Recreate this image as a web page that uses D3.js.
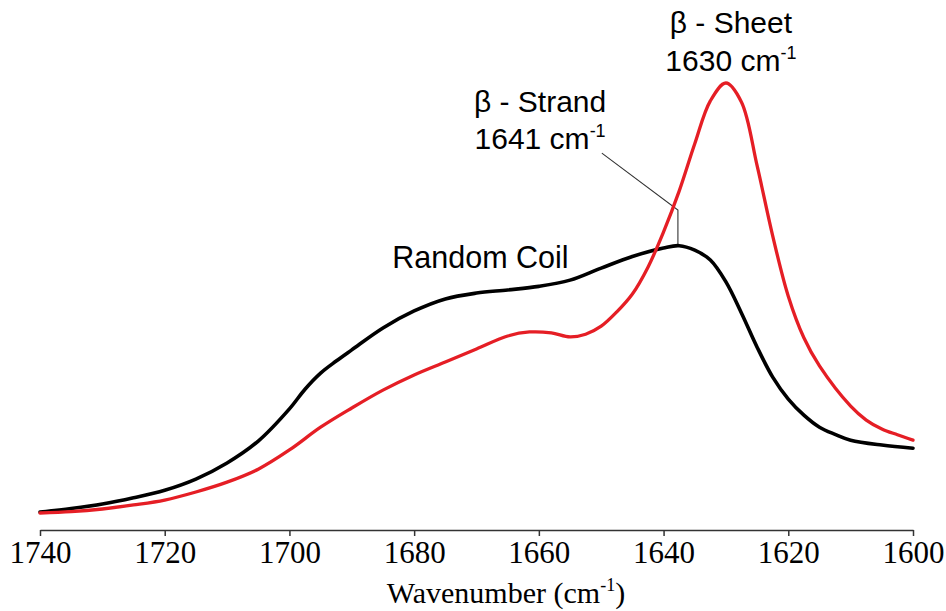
<!DOCTYPE html>
<html>
<head>
<meta charset="utf-8">
<script src="https://cdn.jsdelivr.net/npm/d3@7/dist/d3.min.js"></script>
<style>
  html, body { margin: 0; padding: 0; background: #fff; }
  svg { display: block; }
</style>
</head>
<body>
<svg id="chart" width="946" height="611"></svg>
<script>
// ---- data (absorbance in arbitrary units) ----
const xTicks = [1740, 1720, 1700, 1680, 1660, 1640, 1620, 1600];

const blackWn  = [1740, 1735, 1730, 1725, 1720, 1715, 1710, 1705, 1700, 1697.5, 1695, 1692.5, 1690, 1685, 1680, 1675, 1670, 1665, 1660, 1655, 1650, 1645, 1640, 1637.5, 1635, 1632.5, 1630, 1627.5, 1625, 1622.5, 1620, 1617.5, 1615, 1612.5, 1610, 1605, 1600];
const blackAbs = [0.040, 0.048, 0.058, 0.072, 0.089, 0.114, 0.150, 0.199, 0.271, 0.315, 0.351, 0.378, 0.403, 0.452, 0.490, 0.517, 0.530, 0.537, 0.545, 0.559, 0.586, 0.612, 0.631, 0.636, 0.626, 0.604, 0.555, 0.485, 0.409, 0.342, 0.293, 0.257, 0.230, 0.214, 0.201, 0.190, 0.183];

const redWn  = [1740, 1735, 1730, 1725, 1720, 1715, 1710, 1705, 1700, 1695, 1690, 1685, 1680, 1675, 1670, 1665, 1661.5, 1658, 1655, 1652.5, 1650, 1647.5, 1645, 1642.5, 1640, 1637.5, 1635, 1632.5, 1630, 1627.5, 1625, 1622.5, 1620, 1617.5, 1615, 1610, 1607.5, 1605, 1602.5, 1600];
const redAbs = [0.038, 0.041, 0.047, 0.056, 0.067, 0.085, 0.107, 0.136, 0.179, 0.230, 0.273, 0.313, 0.347, 0.376, 0.405, 0.434, 0.443, 0.441, 0.432, 0.438, 0.456, 0.488, 0.528, 0.588, 0.667, 0.758, 0.864, 0.960, 1.000, 0.957, 0.815, 0.658, 0.523, 0.430, 0.367, 0.277, 0.246, 0.226, 0.213, 0.201];

const labelRandom = "Random Coil";
const labelStrand = ["β - Strand", "1641 cm", "-1"];
const labelSheet  = ["β - Sheet", "1630 cm", "-1"];
const leaderWn  = [1649.9, 1637.7, 1637.7];
const leaderAbs = [0.843, 0.716, 0.636];

// ---- layout ----
const svg = d3.select("#chart");
const axisY = 530;
const x = d3.scaleLinear().domain([1740, 1600]).range([40, 913]);
const y = d3.scaleLinear().domain([0, 1]).range([axisY, 83]);

// curves
const line = d3.line().x(d => x(d[0])).y(d => y(d[1])).curve(d3.curveCatmullRom.alpha(0.5));
const redData = redWn.map((w, i) => [w, redAbs[i]]);
const blackData = blackWn.map((w, i) => [w, blackAbs[i]]);

// leader line (behind curves)
svg.append("path")
  .attr("d", d3.line().x(d => x(d[0])).y(d => y(d[1]))(leaderWn.map((w, i) => [w, leaderAbs[i]])))
  .attr("fill", "none").attr("stroke", "#333").attr("stroke-width", 1.1);

svg.append("path").datum(blackData).attr("d", line)
  .attr("fill", "none").attr("stroke", "#000").attr("stroke-width", 3.6)
  .attr("stroke-linejoin", "round").attr("stroke-linecap", "round");
svg.append("path").datum(redData).attr("d", line)
  .attr("fill", "none").attr("stroke", "#e51e25").attr("stroke-width", 3.3)
  .attr("stroke-linejoin", "round").attr("stroke-linecap", "round");

// x axis
const axis = d3.axisBottom(x).tickValues(xTicks).tickSize(6).tickSizeOuter(0).tickPadding(5).tickFormat(d3.format("d"));
const gx = svg.append("g").attr("transform", `translate(0,${axisY})`).call(axis);
gx.select(".domain").attr("stroke", "#333").attr("stroke-width", 1.5);
gx.selectAll(".tick line").attr("stroke", "#333").attr("stroke-width", 1.5);
gx.selectAll(".tick text")
  .attr("font-family", "'Liberation Serif', 'Times New Roman', serif")
  .attr("font-size", 31).attr("fill", "#000");

// x title
const xt = svg.append("text")
  .attr("x", 506).attr("y", 603).attr("text-anchor", "middle")
  .attr("font-family", "'Liberation Serif', 'Times New Roman', serif")
  .attr("font-size", 30).attr("fill", "#000");
xt.append("tspan").text("Wavenumber (cm");
xt.append("tspan").attr("font-size", 18).attr("dy", -12).text("-1");
xt.append("tspan").attr("dy", 12).text(")");

// annotations
const sans = "'Liberation Sans', Arial, sans-serif";
svg.append("text").attr("x", x(1683.5)).attr("y", 268)
  .attr("font-family", sans).attr("font-size", 30.5).attr("fill", "#000").text(labelRandom);

function twoLine(lbl, cx, y1, y2) {
  svg.append("text").attr("x", cx).attr("y", y1).attr("text-anchor", "middle")
    .attr("font-family", sans).attr("font-size", 30).attr("fill", "#000").text(lbl[0]);
  const t = svg.append("text").attr("x", cx).attr("y", y2).attr("text-anchor", "middle")
    .attr("font-family", sans).attr("font-size", 30).attr("fill", "#000");
  t.append("tspan").text(lbl[1]);
  t.append("tspan").attr("font-size", 18).attr("dy", -12).text(lbl[2]);
}
twoLine(labelStrand, x(1659.8), 112, 149);
twoLine(labelSheet, x(1629.2), 33, 71);
</script>
</body>
</html>
